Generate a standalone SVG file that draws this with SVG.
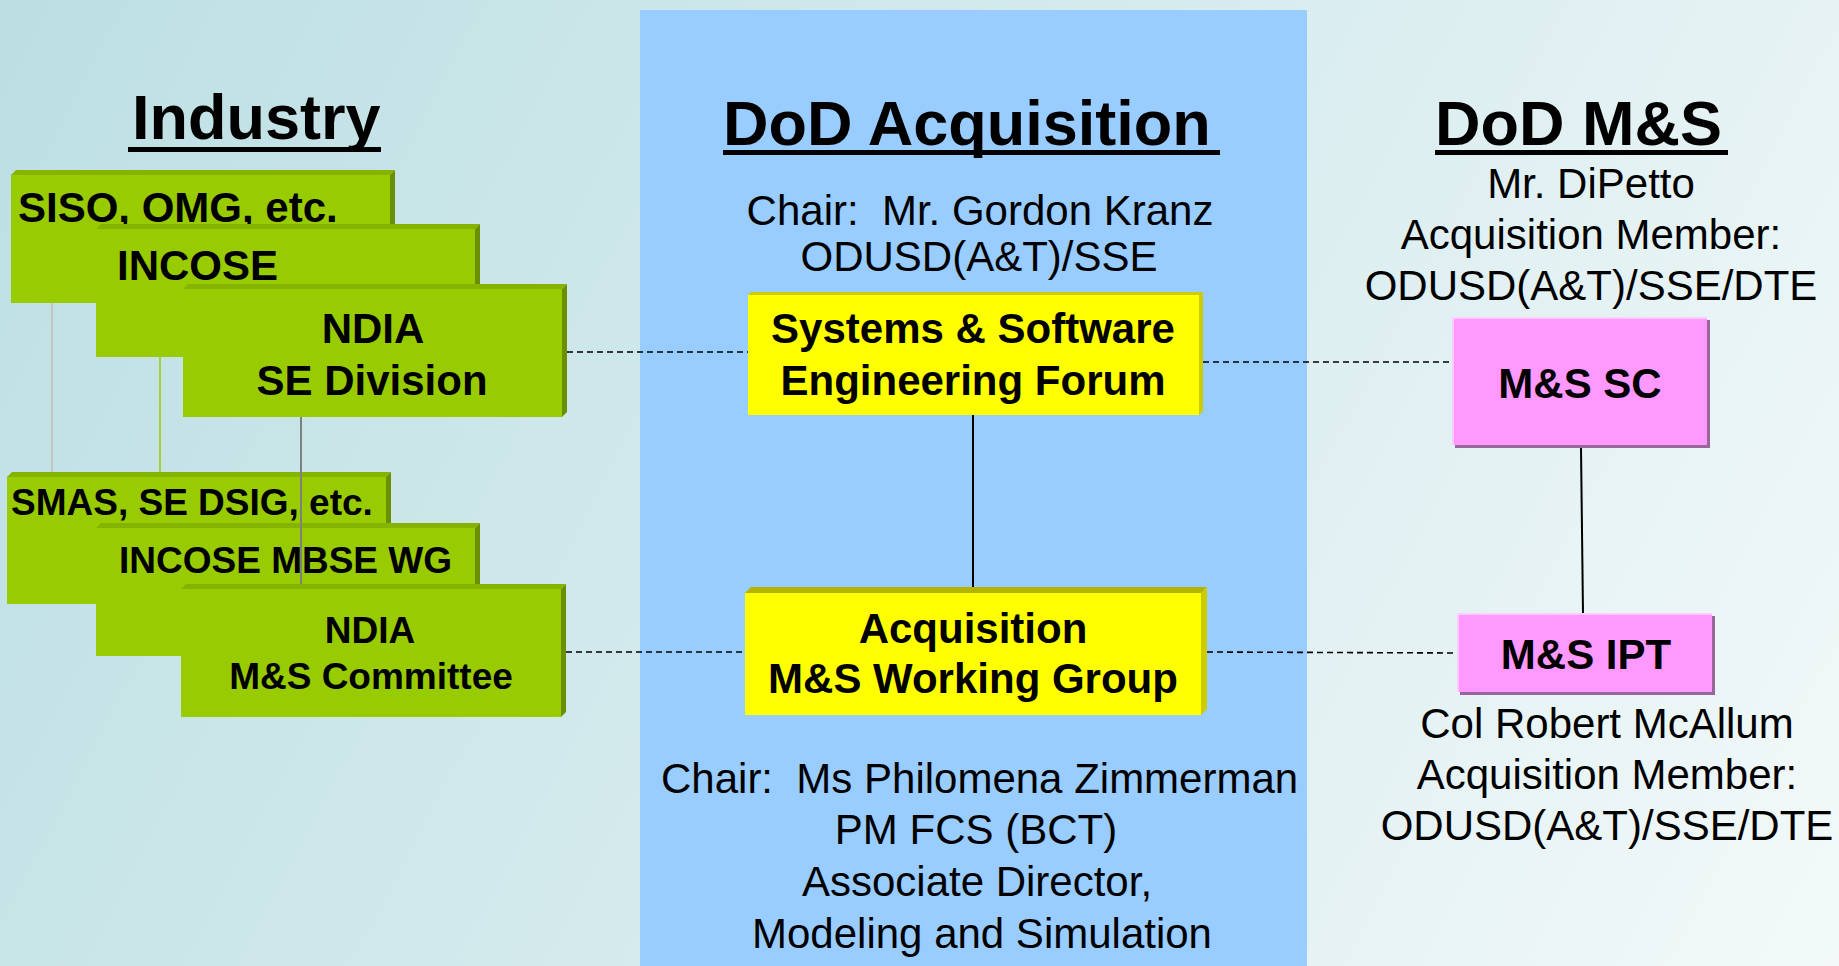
<svg xmlns="http://www.w3.org/2000/svg" width="1839" height="966" viewBox="0 0 1839 966">
<defs>
<linearGradient id="bg" x1="0" y1="0" x2="1839" y2="966" gradientUnits="userSpaceOnUse">
<stop offset="0" stop-color="#bcdfe3"/>
<stop offset="0.5" stop-color="#d6ebee"/>
<stop offset="1" stop-color="#f3f9f9"/>
</linearGradient>
</defs>
<style>
text{font-family:"Liberation Sans",Arial,sans-serif;fill:#000}
.title{font-size:63px;font-weight:bold}
.sub{font-size:42px}
.b42{font-size:42px;font-weight:bold}
.b37{font-size:37px;font-weight:bold}
.mid{text-anchor:middle}
.gf{fill:#99cc00}
.gt{fill:#86b300}
.gr{fill:#6a8f00}
.yf{fill:#ffff00}
.yt{fill:#b3b300}
.yr{fill:#cccc00}
.pf{fill:#ff99ff}
.ps{fill:#996699}
.pe{fill:none;stroke:#ffccff;stroke-width:2}
.dash{stroke:#000;stroke-width:1.6;stroke-dasharray:6 4;fill:none}
.solid{stroke:#000;stroke-width:2;fill:none}
</style>
<rect x="0" y="0" width="1839" height="966" fill="url(#bg)"/>
<rect id="acq-panel" x="640" y="10" width="667" height="956" fill="#99ccff"/>

<g id="headers">
<text class="title" x="132" y="139">Industry</text>
<rect x="128" y="147" width="253" height="5"/>
<text class="title" x="723" y="145">DoD Acquisition</text>
<rect x="723" y="150" width="497" height="5"/>
<text class="title" x="1435" y="145">DoD M&amp;S</text>
<rect x="1435" y="150" width="293" height="5"/>
</g>

<g id="acq-chair-top">
<text class="sub mid" x="980" y="225" xml:space="preserve">Chair:  Mr. Gordon Kranz</text>
<text class="sub mid" x="979" y="271">ODUSD(A&amp;T)/SSE</text>
</g>
<g id="ms-chair-top">
<text class="sub mid" x="1591" y="198">Mr. DiPetto</text>
<text class="sub mid" x="1591" y="249">Acquisition Member:</text>
<text class="sub mid" x="1591" y="300">ODUSD(A&amp;T)/SSE/DTE</text>
</g>
<g id="acq-chair-bottom">
<text class="sub" x="661" y="793" xml:space="preserve">Chair:  Ms Philomena Zimmerman</text>
<text class="sub mid" x="976" y="844">PM FCS (BCT)</text>
<text class="sub mid" x="977" y="896">Associate Director,</text>
<text class="sub mid" x="982" y="948">Modeling and Simulation</text>
</g>
<g id="ms-chair-bottom">
<text class="sub mid" x="1607" y="738">Col Robert McAllum</text>
<text class="sub mid" x="1607" y="789">Acquisition Member:</text>
<text class="sub mid" x="1607" y="840">ODUSD(A&amp;T)/SSE/DTE</text>
</g>

<g id="siso">
<rect class="gf" x="11" y="175" width="379" height="128"/>
<polygon class="gt" points="11,175 16,170 395,170 390,175"/>
<polygon class="gr" points="390,175 395,170 395,298 390,303"/>
<text class="b42" x="18" y="222">SISO, OMG, etc.</text>
</g>
<g id="incose">
<rect class="gf" x="96" y="229" width="379" height="128"/>
<polygon class="gt" points="96,229 101,224 480,224 475,229"/>
<polygon class="gr" points="475,229 480,224 480,352 475,357"/>
<text class="b42" x="117" y="280">INCOSE</text>
</g>
<g id="ndia-se">
<rect class="gf" x="183" y="289" width="379" height="128"/>
<polygon class="gt" points="183,289 188,284 567,284 562,289"/>
<polygon class="gr" points="562,289 567,284 567,412 562,417"/>
<text class="b42 mid" x="373" y="343">NDIA</text>
<text class="b42 mid" x="372" y="395">SE Division</text>
</g>

<g id="smas">
<rect class="gf" x="7" y="477" width="379" height="127"/>
<polygon class="gt" points="7,477 12,472 391,472 386,477"/>
<polygon class="gr" points="386,477 391,472 391,599 386,604"/>
<text class="b37" x="11" y="515">SMAS, SE DSIG, etc.</text>
</g>
<g id="incose-mbse">
<rect class="gf" x="96" y="528" width="379" height="128"/>
<polygon class="gt" points="96,528 101,523 480,523 475,528"/>
<polygon class="gr" points="475,528 480,523 480,651 475,656"/>
<text class="b37" x="119" y="573">INCOSE MBSE WG</text>
</g>

<g id="connectors">
<line x1="52" y1="303" x2="52" y2="472" stroke="#c4c4c4" stroke-width="2"/>
<line x1="160" y1="357" x2="160" y2="472" stroke="#a9d03c" stroke-width="2"/>
<line x1="301" y1="417" x2="301" y2="584" stroke="#808080" stroke-width="2"/>
<line class="dash" x1="567" y1="352" x2="748" y2="352"/>
<line class="dash" x1="566" y1="652" x2="745" y2="652"/>
<line class="dash" x1="1203" y1="362" x2="1452" y2="362"/>
<line class="dash" x1="1207" y1="652" x2="1457" y2="653"/>
<line class="solid" x1="973" y1="415" x2="973" y2="587"/>
<line class="solid" x1="1581" y1="448" x2="1583" y2="613" stroke-width="1.6"/>
</g>

<g id="ndia-ms">
<rect class="gf" x="181" y="589" width="380" height="128"/>
<polygon class="gt" points="181,589 186,584 566,584 561,589"/>
<polygon class="gr" points="561,589 566,584 566,712 561,717"/>
<text class="b37 mid" x="370" y="643">NDIA</text>
<text class="b37 mid" x="371" y="689">M&amp;S Committee</text>
</g>

<g id="ssef">
<rect class="yf" x="748" y="295" width="451" height="120"/>
<polygon class="yr" points="748,295 751,292 1203,292 1199,295"/>
<polygon class="yr" points="1199,295 1203,292 1203,411 1199,415"/>
<text class="b42 mid" x="973" y="343">Systems &amp; Software</text>
<text class="b42 mid" x="973" y="395">Engineering Forum</text>
</g>
<g id="amswg">
<rect class="yf" x="745" y="593" width="456" height="122"/>
<polygon class="yt" points="745,593 751,587 1207,587 1201,593"/>
<polygon class="yr" points="1201,593 1207,587 1207,709 1201,715"/>
<text class="b42 mid" x="973" y="643">Acquisition</text>
<text class="b42 mid" x="973" y="693">M&amp;S Working Group</text>
</g>

<g id="ms-sc">
<rect class="ps" x="1455" y="320" width="255" height="128"/>
<rect class="pf" x="1452" y="317" width="255" height="128"/>
<polyline class="pe" points="1453,445 1453,318 1707,318"/>
<text class="b42 mid" x="1580" y="398">M&amp;S SC</text>
</g>
<g id="ms-ipt">
<rect class="ps" x="1460" y="616" width="255" height="79"/>
<rect class="pf" x="1457" y="613" width="255" height="79"/>
<polyline class="pe" points="1458,692 1458,614 1712,614"/>
<text class="b42 mid" x="1586" y="669">M&amp;S IPT</text>
</g>
</svg>
